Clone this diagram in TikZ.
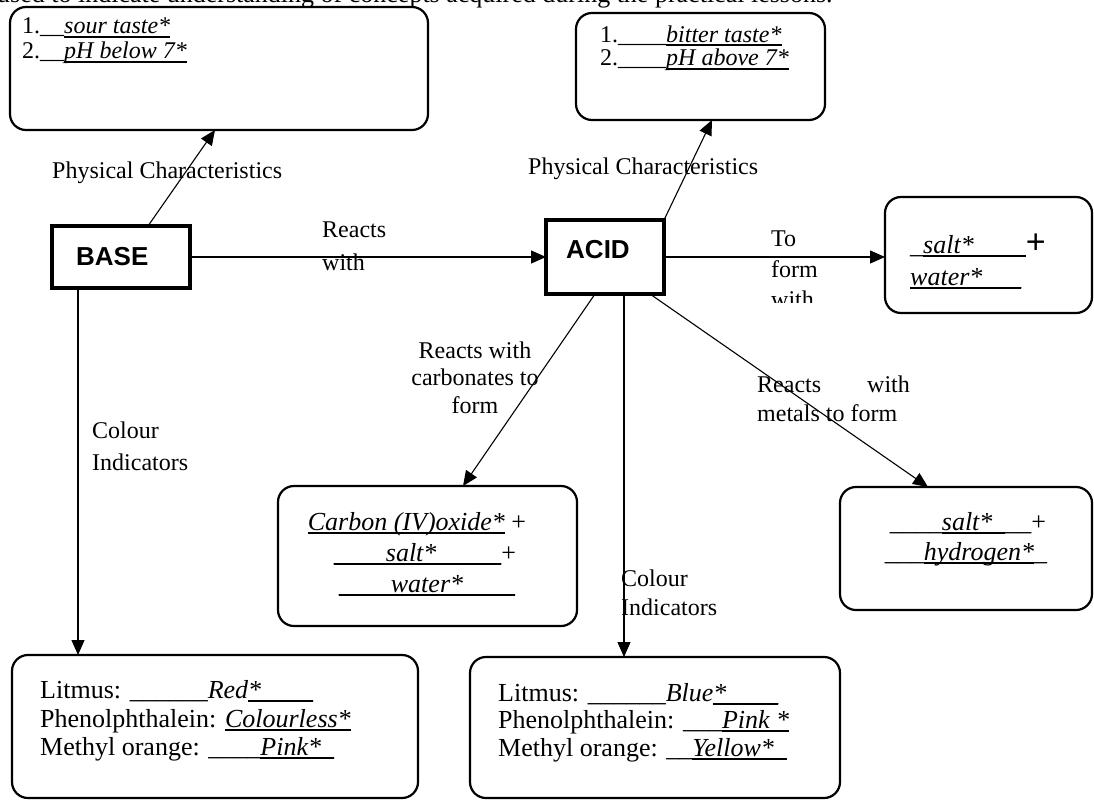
\documentclass[tikz,border=0pt]{standalone}
\usepackage{fontspec}
\setmainfont{Liberation Serif}
\newfontfamily\sansfont{Liberation Sans}
\usetikzlibrary{arrows.meta,calc}
\newcommand\fa{\fontsize{24}{25}\selectfont}
\newcommand\fb{\fontsize{26}{28}\selectfont}
\newsavebox\ulbox
\newcommand\ul[1]{\sbox\ulbox{#1}\rlap{\rule[-3.6pt]{\wd\ulbox}{1.6pt}}\usebox\ulbox}
\begin{document}
\begin{tikzpicture}[x=1pt,y=-1pt,
  rbox/.style={draw, line width=2.2pt, rounded corners=16pt, anchor=north west, inner sep=0pt, outer sep=0pt},
  cbox/.style={draw, line width=4pt, anchor=north west, inner sep=0pt, outer sep=0pt},
  arr/.style={line width=1.1pt, -{Triangle[length=15pt,width=13pt]}},
  txt/.style={anchor=base west, inner sep=0pt, font=\fa},
  txtb/.style={anchor=base west, inner sep=0pt, font=\fb},
  ctr/.style={anchor=base, inner sep=0pt, font=\fb},
  lbl/.style={anchor=base west, inner sep=0pt, font=\fa},
  clbl/.style={anchor=base, inner sep=0pt, font=\fa},
  kw/.style={inner sep=0pt, font=\sansfont\bfseries\fontsize{26}{28}\selectfont}]
\useasboundingbox (0,0) rectangle (1094,800);
\clip (0,0) rectangle (1094,800);

% clipped heading line (cut by the top edge, as in the reference)
\node[anchor=base west, inner sep=0pt, font=\fb] (head) at (-3,3) {used to indicate understanding of concepts acquired during the practical lessons.};

% boxes
\node[rbox, minimum width=418pt, minimum height=123pt] (bphys) at (10,7) {};
\node[rbox, minimum width=249pt, minimum height=107pt] (aphys) at (576,13) {};
\node[cbox, minimum width=138pt, minimum height=62pt] (base) at (52,226) {};
\node[cbox, minimum width=118pt, minimum height=74pt] (acid) at (546,220) {};
\node[rbox, minimum width=207pt, minimum height=116pt] (salt) at (885,197) {};
\node[rbox, minimum width=299pt, minimum height=140pt] (carb) at (278,486) {};
\node[rbox, minimum width=252pt, minimum height=123pt] (metal) at (840,487) {};
\node[rbox, minimum width=406pt, minimum height=143pt] (bind) at (12,655) {};
\node[rbox, minimum width=370pt, minimum height=141pt] (aind) at (470,657) {};

% box keywords
\node[kw, anchor=base west] (basetxt) at (76,265) {BASE};
\node[kw, anchor=base west] (acidtxt) at (566,258) {ACID};

% top-left box text
\node[txt] (bp1) at (22,34) {1.\_\_\ul{\textit{sour taste*}}};
\node[txt] (bp2) at (22,59) {2.\_\_\ul{\textit{pH below 7*}}};
% top-right box text
\node[txt] (ap1) at (600,42) {1.\_\_\_\_\ul{\textit{bitter taste*}}};
\node[txt] (ap2) at (600,66) {2.\_\_\_\_\ul{\textit{pH above 7*}}};

% salt + water box
\node[txtb] (s1) at (910,253) {\_\ul{\textit{salt*}\_\_\_\_}{\sansfont\fontsize{34}{34}\selectfont +}};
\node[txtb] (s2) at (910,285) {\ul{\textit{water*}\_\_\_}};

% carbonate box
\node[ctr] (c1) at (417,530) {\ul{\textit{Carbon (IV)oxide*}} +};
\node[ctr] (c2) at (425,561) {\ul{\_\_\_\_\textit{salt*}\_\_\_\_\_}+};
\node[ctr] (c3) at (427,592) {\ul{\_\_\_\_\textit{water*}\_\_\_\_}};

% metals box
\node[ctr] (m1) at (968,530) {\_\_\_\_\ul{\textit{salt*}\_}\_\_+};
\node[ctr] (m2) at (966,560) {\_\_\_\ul{\textit{hydrogen*}}\_};

% base indicators
\node[txtb] (bi1) at (40,698) {Litmus: \_\_\_\_\_\_\textit{Red}\ul{\textit{*}\_\_\_\_}};
\node[txtb] (bi2) at (40,727) {Phenolphthalein: \ul{\textit{Colourless*}}};
\node[txtb] (bi3) at (40,755) {Methyl orange: \_\_\_\_\ul{\textit{Pink*}\_}};
% acid indicators
\node[txtb] (ai1) at (498,701) {Litmus: \_\_\_\_\_\_\textit{Blue}\ul{\textit{*}\_\_\_\_}};
\node[txtb] (ai2) at (498,728) {Phenolphthalein: \_\_\_\ul{\textit{Pink *}}};
\node[txtb] (ai3) at (498,756) {Methyl orange: \_\_\ul{\textit{Yellow*}\_}};

% connectors
\draw[arr] ([xshift=27pt]base.north) -- ([xshift=-4pt]bphys.south);
\draw[arr] (base.east) -- (base.east -| acid.west);
\draw[arr] (acid.north east) -- ([xshift=11.5pt]aphys.south);
\draw[arr] (acid.east) -- (acid.east -| salt.west);
\draw[arr] ([xshift=-10pt]acid.south) -- ([xshift=35.5pt]carb.north);
\draw[arr] ([xshift=19pt]acid.south) -- ([xshift=19pt]acid.south |- aind.north);
\draw[arr] ([xshift=45pt]acid.south) -- ([xshift=-38pt]metal.north);
\draw[arr] ([xshift=-43pt]base.south) -- ([xshift=-43pt]base.south |- bind.north);

% connector labels
\node[lbl] (l1) at (52,178) {Physical Characteristics};
\node[lbl] (l2) at (528,174) {Physical Characteristics};
\node[lbl] (l3a) at (322,237) {Reacts};
\node[lbl] (l3b) at (322,270) {with};
\begin{scope}
\clip (700,200) rectangle (860,302);
\node[lbl] (l4a) at (771,246) {To};
\node[lbl] (l4b) at (771,277) {form};
\node[lbl] (l4c) at (771,307) {with};
\end{scope}
\node[clbl] (l5a) at (475,358) {Reacts with};
\node[clbl] (l5b) at (475,385) {carbonates to};
\node[clbl] (l5c) at (475,413) {form};
\node[lbl] (l6a) at (757,392) {Reacts\hspace{46pt}with};
\node[lbl] (l6b) at (757,421) {metals to form};
\node[lbl] (l7a) at (92,438) {Colour};
\node[lbl] (l7b) at (92,470) {Indicators};
\node[lbl] (l8a) at (621,586) {Colour};
\node[lbl] (l8b) at (621,615) {Indicators};
\end{tikzpicture}
\end{document}
